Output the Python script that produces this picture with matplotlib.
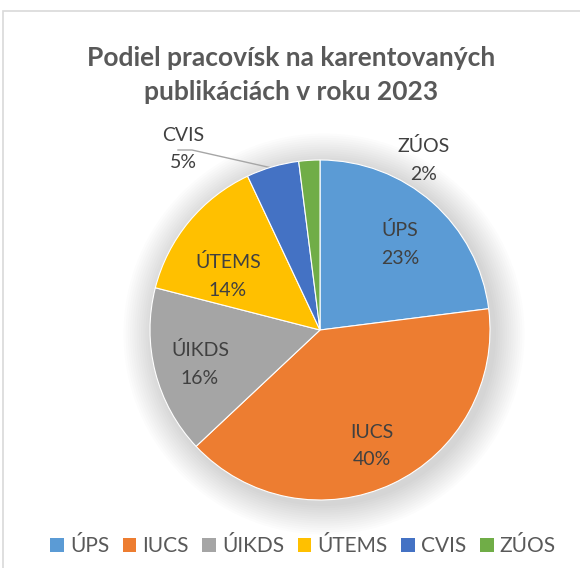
import matplotlib
matplotlib.use("Agg")
import matplotlib.pyplot as plt
from matplotlib.patches import Circle, Rectangle

W, H = 580, 568

labels = ["ÚPS", "IUCS", "ÚIKDS", "ÚTEMS", "CVIS", "ZÚOS"]
values = [23, 40, 16, 14, 5, 2]
colors = ["#5B9BD5", "#ED7D31", "#A5A5A5", "#FFC000", "#4472C4", "#70AD47"]
title = "Podiel pracovísk na karentovaných\npublikáciách v roku 2023"

plt.rcParams['font.family'] = ['Lato', 'DejaVu Sans']

fig = plt.figure(figsize=(W / 100, H / 100), dpi=100)
ax = fig.add_axes([0, 0, 1, 1])
ax.set_xlim(0, W)
ax.set_ylim(0, H)
ax.axis("off")

# chart frame
ax.add_patch(Rectangle((3, -10), W, H - 11 + 10, fill=False,
                       edgecolor="#D9D9D9", lw=1.2))

cx, cy, r = 320, H - 330, 170

# soft shadow around the pie
for i in range(14):
    ax.add_patch(Circle((cx + 4, cy - 4), r + 2 + i * 2.2, color="black",
                        alpha=0.012, lw=0, zorder=1))

txt = iter(labels)
wedges, texts, autotexts = ax.pie(
    values, colors=colors, startangle=90, counterclock=False,
    center=(cx, cy), radius=r, pctdistance=0.72,
    autopct=lambda p: "%s\n%d%%" % (next(txt), round(p)),
    wedgeprops=dict(edgecolor="white", linewidth=0.8),
    textprops=dict(fontsize=14, color="#404040", linespacing=1.75))
for w in wedges:
    w.set_zorder(3)
for t in autotexts:
    t.set_zorder(4)
ax.set_xlim(0, W)
ax.set_ylim(0, H)

# label placement as in the original (best fit)
autotexts[0].set_position((400, H - 244))
autotexts[1].set_position((372, H - 446))
autotexts[2].set_position((200, H - 364))
autotexts[3].set_position((228, H - 276))
autotexts[4].set_position((183, H - 149))
autotexts[5].set_position((424, H - 160))
ax.plot([178, 192, 272], [H - 150, H - 150, H - 168], color="#A6A6A6",
        lw=1, zorder=2)

ax.text(W / 2 + 1, H - 75, title, ha="center", va="center", fontsize=19,
        fontweight="bold", color="#595959", linespacing=1.5)

ax.legend(wedges, labels, loc="center", bbox_to_anchor=(303 / W, 1 - 546 / H),
          ncol=6, frameon=False, fontsize=15, handlelength=0.65,
          handleheight=0.65, handletextpad=0.3, columnspacing=0.65,
          labelcolor="#595959")
for h in ax.get_legend().legend_handles:
    h.set_edgecolor("none")

fig.savefig("out.png", dpi=100)
